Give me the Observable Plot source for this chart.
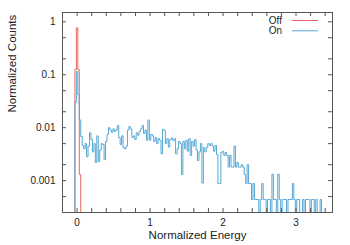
<!DOCTYPE html>
<html><head><meta charset="utf-8">
<script src="https://cdn.jsdelivr.net/npm/d3@7"></script>
<script src="https://cdn.jsdelivr.net/npm/@observablehq/plot@0.6"></script>
<style>body{margin:0;background:#fff}</style>
</head><body><div id="chart"></div>
<script>
// Histogram bins: left edge of first bin and bin width (Normalized Energy units)
const binStart = -0.03;
const binWidth = 0.02;

// "Off" series (normalized counts per bin)
const offValues = [0.125, 0.77, 0.125, 0.0013];

// "On" series (normalized counts per bin)
const onValues = [
  0.030, 0.115, 0.042, 0.014, 0.0068, 0.0046, 0.0040, 0.0050, 0.0028, 0.0045,
  0.0080, 0.0060, 0.0035, 0.0050, 0.0022, 0.0070, 0.0023, 0.0038, 0.0050, 0.0048,
  0.0025, 0.0055, 0.0075, 0.0100, 0.0090, 0.0082, 0.0095, 0.0085, 0.0090, 0.0110,
  0.0065, 0.0048, 0.0070, 0.0042, 0.0040, 0.0045, 0.0090, 0.0105, 0.0095, 0.0065,
  0.0070, 0.0060, 0.0080, 0.0072, 0.0085, 0.0095, 0.0110, 0.0078, 0.0090, 0.0058,
  0.0140, 0.0058, 0.0075, 0.0070, 0.0055, 0.0065, 0.0050, 0.0062, 0.0058, 0.0032,
  0.0093, 0.0088, 0.0050, 0.0062, 0.0043, 0.0060, 0.0064, 0.0057, 0.0062, 0.0032,
  0.0040, 0.0055, 0.0050, 0.0013, 0.0055, 0.0040, 0.0058, 0.0036, 0.0062, 0.0030,
  0.0055, 0.0045, 0.0060, 0.0038, 0.0024, 0.0035, 0.0050, 0.0009, 0.0042, 0.0035,
  0.0042, 0.0050, 0.0046, 0.0050, 0.0045, 0.0036, 0.0046, 0.0031, 0.00088, 0.00088,
  0.0034, 0.0036, 0.0030, 0.0034, 0.0030, 0.0018, 0.0030, 0.0018, 0.0018, 0.0045,
  0.0018, 0.0022, 0.0018, 0.0018, 0.0020, 0.0018, 0.0013, 0.00088, 0.0020, 0.00088,
  0.00088, 0.00044, 0.00088, 0.00044, 0.00044, 0.00044, 0, 0.00044, 0.00088, 0.00044,
  0.00044, 0, 0.00044, 0.00044, 0, 0.00132, 0.00044, 0.00044, 0, 0.00132,
  0.00044, 0, 0.00044, 0.00044, 0.00044, 0, 0.00044, 0.00044, 0.00044, 0.00088,
  0.00044, 0, 0.00044, 0.00044, 0, 0, 0.00044, 0, 0.00044, 0.00044,
  0.00044, 0, 0.00044, 0.00044, 0, 0.00044, 0, 0, 0.00044
];

const seriesNames = ["Off", "On"];
const seriesColors = ["#e8685f", "#55a8d4"];

const xTickLabels = [0, 1, 2, 3];
const yTickLabels = [1, 0.1, 0.01, 0.001];
const xTickMarks = [-0.2, 0, 0.2, 0.4, 0.6, 0.8, 1, 1.2, 1.4, 1.6, 1.8, 2, 2.2, 2.4, 2.6, 2.8, 3, 3.2, 3.4];
const yTickMarks = [1, 0.5, 0.2, 0.1, 0.05, 0.02, 0.01, 0.005, 0.002, 0.001, 0.0005];

const xLabel = "Normalized Energy";
const yLabel = "Normalized Counts";

// layout
const W = 350, H = 245;
const mTop = 12, mRight = 18, mBottom = 33, mLeft = 62;
const innerW = W - mLeft - mRight, innerH = H - mTop - mBottom;
const tickLen = 4;
const axisColor = "#555";
const textColor = "#222";

function steps(values, name) {
  const pts = [{x: binStart, v: 0, series: name}];
  values.forEach((v, i) => pts.push({x: binStart + i * binWidth, v, series: name}));
  pts.push({x: binStart + values.length * binWidth, v: 0, series: name});
  return pts;
}
const offData = steps(offValues, seriesNames[0]);
const onData = steps(onValues, seriesNames[1]);

function legendMark(index, scales, values, dims) {
  const g = d3.create("svg:g")
    .attr("font-size", 10)
    .attr("font-family", "Liberation Sans, Arial, sans-serif")
    .attr("fill", textColor);
  const right = dims.width - dims.marginRight;
  const top = dims.marginTop;
  seriesNames.forEach((name, i) => {
    const y = top + 8.5 + i * 10.3;
    g.append("text").attr("x", right - 50).attr("y", y).attr("dy", "0.35em")
      .attr("text-anchor", "end").text(name);
    g.append("line").attr("x1", right - 40).attr("x2", right - 14)
      .attr("y1", y).attr("y2", y)
      .attr("stroke", seriesColors[i]).attr("stroke-width", 1);
  });
  return g.node();
}

const yAcc = d => (d.v > 0 ? d.v : 1e-7);

const chart = Plot.plot({
  width: W, height: H,
  marginTop: mTop, marginRight: mRight, marginBottom: mBottom, marginLeft: mLeft,
  style: {fontFamily: "Liberation Sans, Arial, sans-serif", fontSize: "10px", color: textColor, background: "#fff"},
  x: {type: "linear", domain: [-0.2, 3.5], axis: null},
  y: {type: "log", domain: [2.5e-4, 1.5], axis: null},
  marks: [
    Plot.line(offData, {x: "x", y: yAcc, curve: "step-after", stroke: seriesColors[0], strokeWidth: 1, clip: true}),
    Plot.line(onData, {x: "x", y: yAcc, curve: "step-after", stroke: seriesColors[1], strokeWidth: 1, clip: true}),
    // inward ticks on all four sides
    Plot.ruleX(xTickMarks, {stroke: axisColor, insetTop: innerH - tickLen}),
    Plot.ruleX(xTickMarks, {stroke: axisColor, insetBottom: innerH - tickLen}),
    Plot.ruleY(yTickMarks, {stroke: axisColor, insetRight: innerW - tickLen}),
    Plot.ruleY(yTickMarks, {stroke: axisColor, insetLeft: innerW - tickLen}),
    Plot.frame({stroke: axisColor}),
    Plot.axisX(xTickLabels, {tickSize: 0, tickPadding: 6, label: null, fill: textColor}),
    Plot.axisY(yTickLabels, {tickSize: 0, tickPadding: 7, label: null, fill: textColor, tickFormat: d => String(d)}),
    Plot.text([xLabel], {text: d => d, frameAnchor: "bottom", dy: 26, fontSize: 11.5, fill: textColor}),
    Plot.text([yLabel], {text: d => d, frameAnchor: "left", dx: -50, rotate: -90, fontSize: 11.5, fill: textColor}),
    legendMark
  ]
});
document.getElementById("chart").appendChild(chart);
</script>
</body></html>
